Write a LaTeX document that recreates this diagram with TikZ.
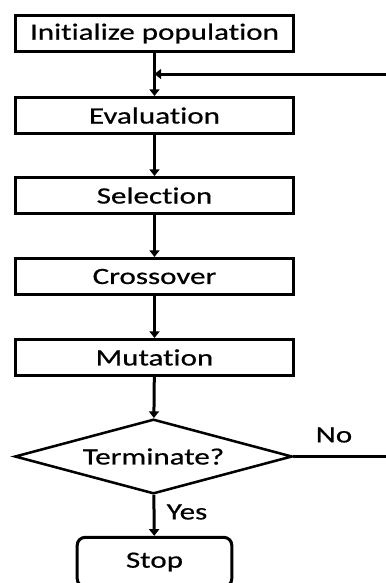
\documentclass[tikz,border=0pt]{standalone}
\usepackage{fontspec}
\setmainfont{Carlito}[FakeStretch=1.33, FakeBold=0.6, Ligatures=NoCommon]
\usetikzlibrary{arrows.meta,shapes.geometric}

\tikzset{
	procbox/.style={draw, line width=2.25pt, minimum width=208.5pt, minimum height=27pt, inner sep=0pt},
	decbox/.style={draw, diamond, line width=1.9pt, minimum width=208pt, minimum height=56pt, aspect=3.6, inner sep=0pt},
	endbox/.style={draw, rounded corners=6pt, line width=2.25pt, minimum width=116pt, minimum height=37pt, inner sep=0pt},
	flowline/.style={line width=2.25pt, -{Triangle[length=5pt,width=7.5pt]}}
}

\begin{document}
\begin{tikzpicture}[x=0.75pt, y=-0.75pt, font=\fontsize{17.5}{20}\selectfont]
			%%%%% START %%%%%
			
			\useasboundingbox (0, 0) rectangle (386, 583);
			
			\node[procbox] (init) at (154.5, 33.5) {Initialize population};
			\node[procbox] (eval) at (154.5, 115.5) {Evaluation};
			\node[procbox] (sel) at (154.5, 195.5) {Selection};
			\node[procbox] (cross) at (154.5, 276.5) {Crossover};
			\node[procbox] (mut) at (154.5, 357.5) {Mutation};
			\node[decbox] (term) at (153.5, 456.5) {Terminate?};
			\node[endbox] (stop) at (154.5, 562) {Stop};
			
			\coordinate (join) at (154.5, 74);
			
			\draw[flowline] (init) -- (eval);
			\draw[flowline] (eval) -- (sel);
			\draw[flowline] (sel) -- (cross);
			\draw[flowline] (cross) -- (mut);
			\draw[flowline] (mut) -- (term);
			\draw[flowline] (term) -- (stop);
			
			\draw[flowline] (term.east) -- ++(110, 0) |- (join);
			
			\node (no) at (334, 435) {No};
			\node (yes) at (187, 512) {Yes};
			
			%%%%% END %%%%%
		\end{tikzpicture}
\end{document}
